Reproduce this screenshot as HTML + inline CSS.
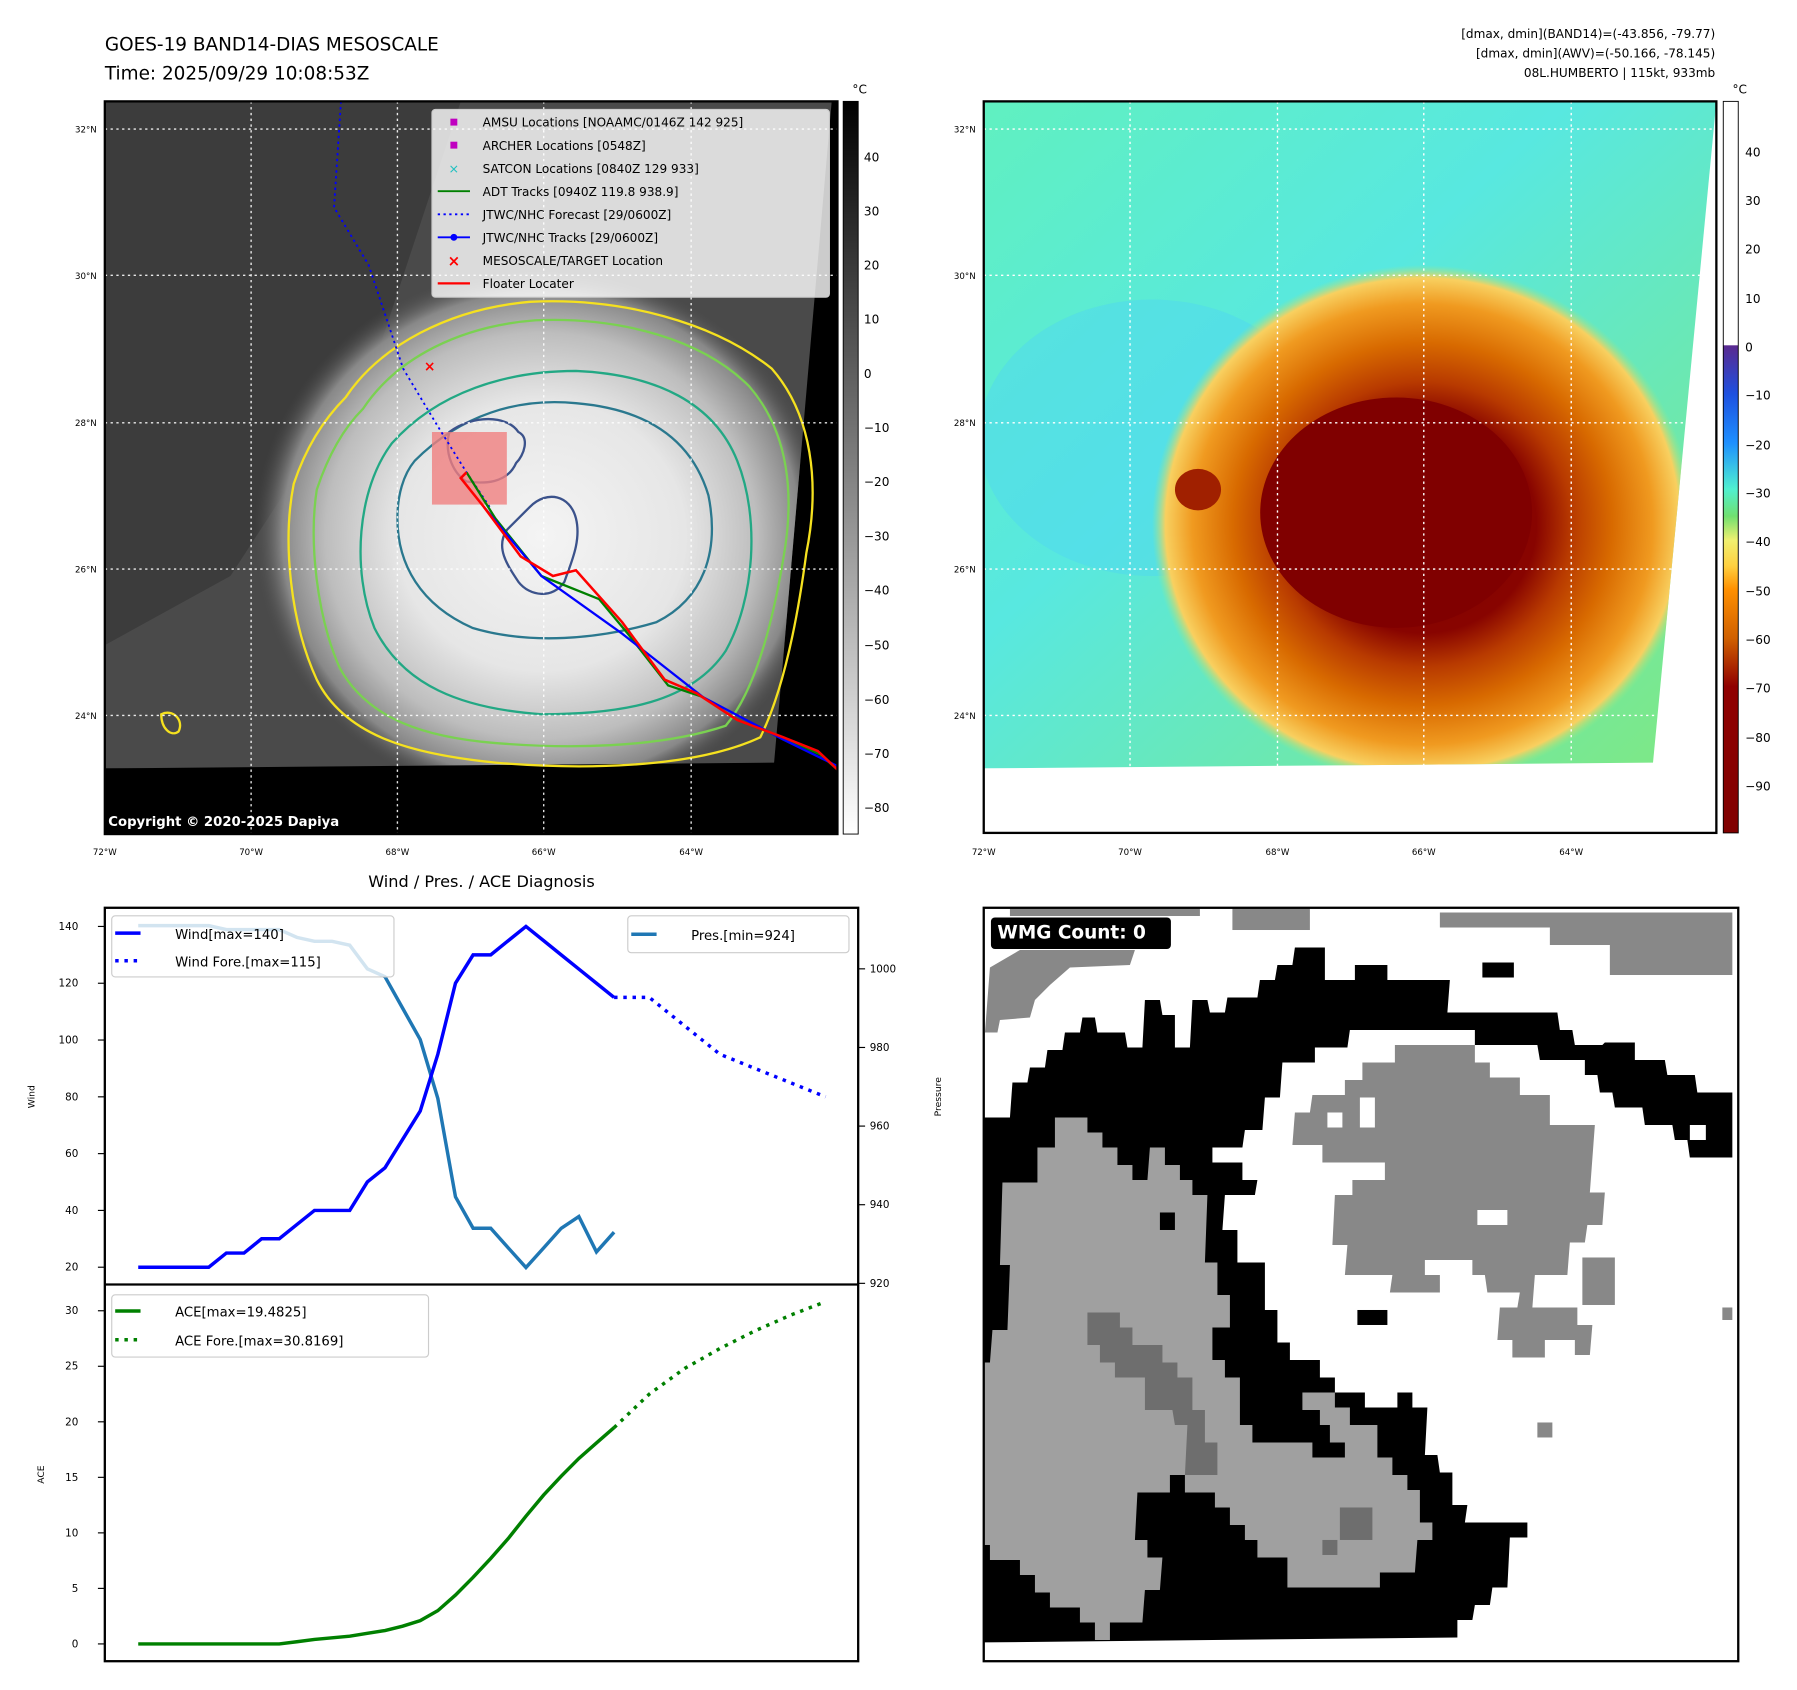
<!DOCTYPE html>
<html><head><meta charset="utf-8"><style>
html,body{margin:0;padding:0;background:#fff;}
svg{display:block;font-family:"DejaVu Sans","Liberation Sans",sans-serif;}
</style></head><body>
<svg id="fig" xmlns="http://www.w3.org/2000/svg" width="1797" height="1690" viewBox="0 0 1560 1467" preserveAspectRatio="none">
<defs>
<radialGradient id="stormGray" cx="0.5" cy="0.5" r="0.5">
<stop offset="0" stop-color="#f4f4f4"/><stop offset="0.5" stop-color="#e6e6e6"/><stop offset="0.75" stop-color="#bdbdbd"/><stop offset="0.9" stop-color="#888"/><stop offset="1" stop-color="#4a4a4a" stop-opacity="0"/>
</radialGradient>
<radialGradient id="stormColor" cx="0.5" cy="0.5" r="0.5">
<stop offset="0" stop-color="#800000"/><stop offset="0.42" stop-color="#880400"/><stop offset="0.55" stop-color="#b83a00"/><stop offset="0.7" stop-color="#d86a00"/><stop offset="0.85" stop-color="#f09a20"/><stop offset="0.95" stop-color="#f8d060"/><stop offset="1" stop-color="#a0e880" stop-opacity="0"/>
</radialGradient>
<linearGradient id="bgColor" x1="0" y1="0" x2="1" y2="1">
<stop offset="0" stop-color="#60f0c0"/><stop offset="0.4" stop-color="#58e8e0"/><stop offset="1" stop-color="#80e880"/>
</linearGradient>
<linearGradient id="cbGray" x1="0" y1="0" x2="0" y2="1"><stop offset="0" stop-color="#000"/><stop offset="1" stop-color="#fff"/></linearGradient>
<linearGradient id="cbColor" x1="0" y1="0" x2="0" y2="1">
<stop offset="0" stop-color="#fff"/><stop offset="0.333" stop-color="#fff"/><stop offset="0.334" stop-color="#5a2a90"/><stop offset="0.40" stop-color="#1e50e0"/><stop offset="0.467" stop-color="#1e90ff"/><stop offset="0.53" stop-color="#50f0d0"/><stop offset="0.567" stop-color="#70e070"/><stop offset="0.60" stop-color="#f0f070"/><stop offset="0.635" stop-color="#ffd040"/><stop offset="0.667" stop-color="#ff9000"/><stop offset="0.734" stop-color="#d06000"/><stop offset="0.80" stop-color="#900000"/><stop offset="1" stop-color="#800000"/>
</linearGradient>
<clipPath id="clipL"><rect x="91" y="88" width="636" height="636"/></clipPath>
<clipPath id="dataL"><polygon points="91,88 722,88 672,662 91,667"/></clipPath>
<clipPath id="clipR"><rect x="854" y="88" width="636" height="635"/></clipPath>
<clipPath id="dataR"><polygon points="854,88 1490,88 1435,662 854,667"/></clipPath>
<clipPath id="clipW"><rect x="854" y="788" width="655" height="654"/></clipPath>
</defs>

<text x="91" y="44" font-size="16">GOES-19 BAND14-DIAS MESOSCALE</text>
<text x="91" y="69" font-size="16">Time: 2025/09/29 10:08:53Z</text>
<g font-size="10.5" text-anchor="end">
<text x="1489" y="33">[dmax, dmin](BAND14)=(-43.856, -79.77)</text>
<text x="1489" y="50">[dmax, dmin](AWV)=(-50.166, -78.145)</text>
<text x="1489" y="67">08L.HUMBERTO | 115kt, 933mb</text>
</g>

<!-- LEFT MAP -->
<g clip-path="url(#clipL)">
<rect x="91" y="88" width="636" height="636" fill="#000"/>
<g clip-path="url(#dataL)">
<rect x="91" y="88" width="636" height="580" fill="#4a4a4a"/>
<polygon points="91,88 400,88 330,300 200,500 91,560" fill="#3c3c3c"/>
<ellipse cx="470" cy="465" rx="250" ry="235" fill="url(#stormGray)"/>
</g>
<g fill="none" stroke-width="2">
<path d="M300,345 C330,300 390,268 460,262 C540,258 620,280 670,320 C705,360 712,420 700,480 C692,540 680,600 660,640 C600,668 500,668 430,662 C360,655 300,640 275,590 C252,540 245,470 255,420 C265,390 280,365 300,345Z" stroke="#f5e11f"/>
<path d="M315,355 C345,310 400,283 465,278 C540,275 610,295 650,335 C685,375 690,430 680,485 C670,545 655,600 630,630 C570,650 490,650 430,645 C370,640 320,625 295,580 C275,535 268,470 275,425 C285,395 298,372 315,355Z" stroke="#7ad151"/>
<path d="M340,385 C380,340 440,322 500,322 C570,325 620,350 640,400 C660,450 655,520 630,565 C600,610 540,620 470,620 C400,615 350,595 325,545 C305,495 310,425 340,385Z" stroke="#22a884"/>
<path d="M360,400 C400,360 450,345 500,350 C560,355 600,380 615,430 C625,480 610,520 570,540 C520,555 460,560 410,545 C365,525 345,490 345,450 C345,430 350,412 360,400Z" stroke="#2a788e"/>
<path d="M390,375 C410,360 440,360 450,375 C460,380 455,395 448,402 C440,420 420,420 405,418 C395,412 385,395 390,375Z" stroke="#3b528b"/>
<path d="M460,440 C475,425 495,430 500,450 C505,470 495,490 490,505 C480,520 460,518 450,505 C440,490 430,475 440,460 Z" stroke="#3b528b"/>
<path d="M140,620 C150,615 160,625 155,635 C148,640 140,632 140,620Z" stroke="#f5e11f"/>
</g>
<rect x="375" y="375" width="65" height="63" fill="#f08080" opacity="0.8"/>
<g stroke-dasharray="2,3" stroke="#fff" stroke-width="1.2" opacity="0.9">
<line x1="91" y1="112" x2="727" y2="112"/><line x1="91" y1="239" x2="727" y2="239"/><line x1="91" y1="367" x2="727" y2="367"/><line x1="91" y1="494" x2="727" y2="494"/><line x1="91" y1="621" x2="727" y2="621"/>
<line x1="218" y1="88" x2="218" y2="724"/><line x1="345" y1="88" x2="345" y2="724"/><line x1="472" y1="88" x2="472" y2="724"/><line x1="600" y1="88" x2="600" y2="724"/>
</g>
<polyline points="296,88 290,180 320,230 350,320 380,370 405,410 425,440" fill="none" stroke="#0000ff" stroke-width="1.6" stroke-dasharray="2,3"/>
<polyline points="405,410 430,450 470,500 520,520 545,550 580,595 610,605 640,625 680,640 712,655 727,668" fill="none" stroke="#008000" stroke-width="2"/>
<polyline points="420,440 470,500 540,550 610,605 680,642 727,665" fill="none" stroke="#0000ff" stroke-width="2"/>
<polyline points="405,410 400,415 420,440 452,483 480,500 500,495 540,540 577,590 605,602 640,625 680,640 710,652 727,668" fill="none" stroke="#ff0000" stroke-width="2.2"/>
<text x="373" y="322" font-size="12" fill="#ff0000" text-anchor="middle" font-weight="bold">×</text>
<text x="94" y="717" font-size="11.5" font-weight="bold" fill="#fff">Copyright © 2020-2025 Dapiya</text>
<g>
<rect x="375" y="95" width="345" height="163" rx="3" fill="#fff" fill-opacity="0.8" stroke="#ccc"/>
<g font-size="10.5">
<rect x="391" y="103" width="6" height="6" fill="#c000c0"/><text x="419" y="110">AMSU Locations [NOAAMC/0146Z 142 925]</text>
<rect x="391" y="123" width="6" height="6" fill="#c000c0"/><text x="419" y="130">ARCHER Locations [0548Z]</text>
<text x="394" y="150" fill="#20c0c0" text-anchor="middle" font-size="11">×</text><text x="419" y="150">SATCON Locations [0840Z 129 933]</text>
<line x1="380" y1="166" x2="408" y2="166" stroke="#008000" stroke-width="1.6"/><text x="419" y="170">ADT Tracks [0940Z 119.8 938.9]</text>
<line x1="380" y1="186" x2="408" y2="186" stroke="#0000ff" stroke-width="1.6" stroke-dasharray="2,3"/><text x="419" y="190">JTWC/NHC Forecast [29/0600Z]</text>
<line x1="380" y1="206" x2="408" y2="206" stroke="#0000ff" stroke-width="1.6"/><circle cx="394" cy="206" r="3" fill="#0000ff"/><text x="419" y="210">JTWC/NHC Tracks [29/0600Z]</text>
<text x="394" y="231" fill="#ff0000" text-anchor="middle" font-size="13" font-weight="bold">×</text><text x="419" y="230">MESOSCALE/TARGET Location</text>
<line x1="380" y1="246" x2="408" y2="246" stroke="#ff0000" stroke-width="2"/><text x="419" y="250">Floater Locater</text>
</g></g>
</g>
<rect x="91" y="88" width="636" height="636" fill="none" stroke="#000" stroke-width="2"/>
<rect x="732" y="88" width="13" height="636" fill="url(#cbGray)" stroke="#000" stroke-width="0.8"/>
<text x="740" y="81" font-size="10.5">°C</text>
<g font-size="10.5">
<text x="750" y="140">40</text><text x="750" y="187">30</text><text x="750" y="234">20</text><text x="750" y="281">10</text><text x="750" y="328">0</text><text x="750" y="375">−10</text><text x="750" y="422">−20</text><text x="750" y="469">−30</text><text x="750" y="516">−40</text><text x="750" y="564">−50</text><text x="750" y="611">−60</text><text x="750" y="658">−70</text><text x="750" y="705">−80</text>
</g>
<g font-size="7.5" text-anchor="end">
<text x="84" y="115">32°N</text><text x="84" y="242">30°N</text><text x="84" y="370">28°N</text><text x="84" y="497">26°N</text><text x="84" y="624">24°N</text>
</g>
<g font-size="7.5" text-anchor="middle">
<text x="91" y="742">72°W</text><text x="218" y="742">70°W</text><text x="345" y="742">68°W</text><text x="472" y="742">66°W</text><text x="600" y="742">64°W</text>
</g>

<!-- RIGHT MAP -->
<g clip-path="url(#clipR)">
<rect x="854" y="88" width="636" height="635" fill="#fff"/>
<g clip-path="url(#dataR)">
<rect x="854" y="88" width="636" height="580" fill="url(#bgColor)"/>
<ellipse cx="1000" cy="380" rx="150" ry="120" fill="#50d8f0" opacity="0.5"/>
<ellipse cx="1235" cy="455" rx="235" ry="225" fill="url(#stormColor)"/>
<ellipse cx="1212" cy="445" rx="118" ry="100" fill="#800000"/>
<ellipse cx="1040" cy="425" rx="20" ry="18" fill="#a02000"/>
</g>
<g stroke-dasharray="2,3" stroke="#fff" stroke-width="1.2">
<line x1="854" y1="112" x2="1490" y2="112"/><line x1="854" y1="239" x2="1490" y2="239"/><line x1="854" y1="367" x2="1490" y2="367"/><line x1="854" y1="494" x2="1490" y2="494"/><line x1="854" y1="621" x2="1490" y2="621"/>
<line x1="981" y1="88" x2="981" y2="667"/><line x1="1109" y1="88" x2="1109" y2="667"/><line x1="1236" y1="88" x2="1236" y2="667"/><line x1="1364" y1="88" x2="1364" y2="667"/>
</g>
</g>
<rect x="854" y="88" width="636" height="635" fill="none" stroke="#000" stroke-width="2"/>
<rect x="1496" y="88" width="13" height="635" fill="url(#cbColor)" stroke="#000" stroke-width="0.8"/>
<text x="1504" y="81" font-size="10.5">°C</text>
<g font-size="10.5">
<text x="1515" y="136">40</text><text x="1515" y="178">30</text><text x="1515" y="220">20</text><text x="1515" y="263">10</text><text x="1515" y="305">0</text><text x="1515" y="347">−10</text><text x="1515" y="390">−20</text><text x="1515" y="432">−30</text><text x="1515" y="474">−40</text><text x="1515" y="517">−50</text><text x="1515" y="559">−60</text><text x="1515" y="601">−70</text><text x="1515" y="644">−80</text><text x="1515" y="686">−90</text>
</g>
<g font-size="7.5" text-anchor="end">
<text x="847" y="115">32°N</text><text x="847" y="242">30°N</text><text x="847" y="370">28°N</text><text x="847" y="497">26°N</text><text x="847" y="624">24°N</text>
</g>
<g font-size="7.5" text-anchor="middle">
<text x="854" y="742">72°W</text><text x="981" y="742">70°W</text><text x="1109" y="742">68°W</text><text x="1236" y="742">66°W</text><text x="1364" y="742">64°W</text>
</g>

<!-- WMG PANEL -->
<g clip-path="url(#clipW)">
<rect x="854" y="788" width="655" height="654" fill="#fff"/>
<g transform="translate(850.7,781.25) scale(0.434)">
<g fill="#888">
<rect x="60" y="10" width="380" height="22"/><rect x="505" y="10" width="155" height="50"/><rect x="920" y="25" width="585" height="30"/><rect x="1140" y="55" width="365" height="35"/><rect x="1260" y="90" width="245" height="60"/>
<polygon points="20,135 80,100 310,100 300,130 180,135 140,170 110,200 100,235 40,240 35,265 10,265"/>
</g>
<polygon fill="#000" points="0,435 60,435 65,365 95,365 100,335 130,335 135,300 165,300 170,265 200,265 205,235 230,235 235,265 290,265 295,295 325,295 330,200 360,200 365,230 390,230 390,295 420,295 425,200 455,200 460,225 490,225 495,195 555,195 560,160 590,160 595,130 625,130 630,95 690,95 690,160 750,160 750,130 815,130 815,160 940,160 935,225 1155,225 1160,260 1185,260 1190,290 1245,290 1250,285 1310,285 1310,320 1370,320 1375,350 1430,350 1435,385 1505,385 1505,515 1420,515 1415,480 1390,480 1385,450 1330,450 1325,415 1270,415 1265,385 1240,385 1235,350 1210,350 1210,320 1120,320 1115,290 990,290 990,260 740,260 735,295 670,295 670,325 605,325 600,395 570,395 565,460 530,460 525,495 465,495 465,525 525,525 525,560 555,560 550,590 490,590 485,660 515,660 515,725 570,725 570,820 595,820 595,885 620,885 620,920 680,920 680,955 710,955 710,985 770,985 770,1015 835,1015 835,985 865,985 865,1015 895,1015 890,1110 915,1110 920,1145 945,1145 945,1210 975,1210 970,1245 1095,1245 1095,1275 1060,1275 1055,1375 1025,1375 1020,1410 990,1410 985,1440 955,1440 955,1475 0,1485"/>
<polygon fill="#a0a0a0" points="150,435 215,435 215,465 245,465 245,495 275,495 275,530 305,530 305,560 335,560 340,495 370,495 370,530 400,530 400,560 425,560 425,590 455,590 450,725 475,725 475,790 500,790 500,855 465,855 465,920 490,920 490,955 520,955 520,1050 545,1050 545,1085 665,1085 665,1115 730,1115 730,1085 700,1085 700,1050 680,1050 680,1020 645,1020 645,985 710,985 710,1015 740,1015 740,1050 795,1050 795,1115 825,1115 825,1150 855,1150 855,1180 880,1180 880,1245 905,1245 905,1280 875,1280 870,1345 800,1345 800,1375 615,1375 615,1315 555,1315 555,1280 530,1280 530,1250 500,1250 500,1215 470,1215 470,1185 410,1185 410,1150 380,1150 380,1185 315,1185 310,1280 335,1280 335,1315 365,1315 360,1380 330,1380 325,1445 260,1445 260,1480 230,1480 230,1445 200,1445 200,1415 140,1415 140,1385 110,1385 110,1350 80,1350 80,1320 20,1320 20,1290 0,1290 0,925 20,925 25,860 55,860 60,730 40,730 45,565 115,565 115,495 150,495"/>
<g fill="#6e6e6e">
<polygon points="215,825 280,825 280,855 305,855 305,890 365,890 365,925 395,925 395,955 425,955 425,1020 450,1020 450,1085 475,1085 475,1150 410,1150 415,1050 390,1050 385,1020 330,1020 330,955 270,955 270,925 240,925 240,890 215,890"/>
<rect x="720" y="1215" width="65" height="65"/><rect x="685" y="1280" width="30" height="30"/>
</g>
<polygon fill="#888" points="830,290 990,290 990,325 1020,325 1020,355 1080,355 1080,390 1140,390 1140,450 1230,450 1220,585 1250,585 1245,650 1215,650 1210,685 1180,685 1175,750 1110,750 1105,815 1195,815 1195,850 1225,850 1220,910 1190,910 1190,880 1130,880 1130,915 1065,915 1065,880 1035,880 1040,815 1075,815 1080,785 1015,785 1010,750 985,750 985,720 890,720 890,750 920,750 920,785 820,785 825,750 730,750 735,690 705,690 710,590 745,590 745,560 810,560 810,525 685,525 685,490 625,490 630,425 660,425 665,390 730,390 730,360 765,360 765,325 830,325"/>
<g fill="#fff"><rect x="695" y="425" width="30" height="30"/><rect x="760" y="395" width="30" height="60"/><rect x="995" y="620" width="60" height="30"/><rect x="1420" y="450" width="32" height="30"/></g>
<g fill="#888"><rect x="1205" y="715" width="65" height="95"/><rect x="1115" y="1045" width="30" height="30"/><rect x="1485" y="815" width="20" height="25"/></g>
<g fill="#000"><rect x="1005" y="125" width="63" height="30"/><rect x="755" y="820" width="60" height="30"/><rect x="360" y="625" width="30" height="35"/></g>
<rect x="22" y="35" width="360" height="63" rx="8" fill="#000"/>
<text x="35" y="77" font-size="37" font-weight="bold" fill="#fff">WMG Count: 0</text>
</g>
</g>
<rect x="854" y="788" width="655" height="654" fill="none" stroke="#000" stroke-width="2"/>

<!-- BOTTOM CHART -->
<text x="418" y="770" font-size="14" text-anchor="middle">Wind / Pres. / ACE Diagnosis</text>
<g id="chart"></g>
<rect x="91" y="788" width="654" height="654" fill="none" stroke="#000" stroke-width="2"/>
<line x1="91" y1="1115" x2="745" y2="1115" stroke="#000" stroke-width="2"/>
<text transform="translate(30,952) rotate(-90)" font-size="8" text-anchor="middle">Wind</text>
<text transform="translate(817,952) rotate(-90)" font-size="8" text-anchor="middle">Pressure</text>
<text transform="translate(38,1280) rotate(-90)" font-size="8" text-anchor="middle">ACE</text>
</svg>
<script>
const windObs = [20,20,20,20,20,25,25,30,30,35,40,40,40,50,55,65,75,95,120,130,130,135,140,135,130,125,120,115];
const windFore = [115,115,105,95,90,85,80];
const presObs = [1011,1011,1011,1011,1011,1010,1010,1010,1010,1008,1007,1007,1006,1000,998,990,982,967,942,934,934,929,924,929,934,937,928,933];
const aceObs = [0,0,0,0,0,0,0,0,0,0.2,0.4,0.55,0.7,0.95,1.2,1.6,2.1,3.0,4.4,6.0,7.7,9.5,11.5,13.4,15.1,16.7,18.1,19.48];
const aceFore = [19.48,22.5,24.8,26.6,28.2,29.6,30.82];
const foreStep = 2;
const windTicks = [20,40,60,80,100,120,140];
const presTicks = [920,940,960,980,1000];
const aceTicks = [0,5,10,15,20,25,30];

const NS='http://www.w3.org/2000/svg';
const g=document.getElementById('chart');
const xS=i=>120+i*15.3;
const yW=w=>1100-(w-20)*2.465;
const yP=p=>841+(1000-p)*3.4125;
const yA=a=>1427-a*9.64;
function mk(tag,attrs){const e=document.createElementNS(NS,tag);for(const k in attrs)e.setAttribute(k,attrs[k]);g.appendChild(e);return e;}
function pts(arr,fx,fy){return arr.map((v,i)=>fx(i).toFixed(1)+','+fy(v).toFixed(1)).join(' ');}
const off=windObs.length-1;
let e;
e=mk('polyline',{points:pts(presObs,xS,yP),fill:'none',stroke:'#1f77b4','stroke-width':3});


e=mk('polyline',{points:pts(windObs,xS,yW),fill:'none',stroke:'#0000ff','stroke-width':3});


e=mk('polyline',{points:pts(windFore,i=>xS(off+i*foreStep),yW),fill:'none',stroke:'#0000ff','stroke-width':3,'stroke-dasharray':'3,5'});


e=mk('polyline',{points:pts(aceObs,xS,yA),fill:'none',stroke:'#008000','stroke-width':3});


e=mk('polyline',{points:pts(aceFore,i=>xS(off+i*foreStep),yA),fill:'none',stroke:'#008000','stroke-width':3,'stroke-dasharray':'3,5'});


windTicks.forEach(t=>{const y=yW(t);mk('line',{x1:85,y1:y,x2:91,y2:y,stroke:'#000'});
e=mk('text',{x:68,y:y+3,'font-size':9,'text-anchor':'end'});e.textContent=t;

});
presTicks.forEach(t=>{const y=yP(t);mk('line',{x1:745,y1:y,x2:751,y2:y,stroke:'#000'});
e=mk('text',{x:755,y:y+3,'font-size':9});e.textContent=t;

});
aceTicks.forEach(t=>{const y=yA(t);mk('line',{x1:85,y1:y,x2:91,y2:y,stroke:'#000'});
e=mk('text',{x:68,y:y+3,'font-size':9,'text-anchor':'end'});e.textContent=t;

});
function legend(name,x,y,w,h,items){const r=mk('rect',{x:x,y:y,width:w,height:h,rx:3,fill:'#fff','fill-opacity':0.8,stroke:'#ccc'});


items.forEach(it=>{mk('line',{x1:x+3,y1:it.y,x2:x+25,y2:it.y,stroke:it.c,'stroke-width':3,'stroke-dasharray':it.d||'none'});
const t=mk('text',{x:x+55,y:it.y+5,'font-size':11.5});t.textContent=it.t;

});}
legend('wind-legend',97,795,245,53,[{y:810,c:'#0000ff',t:'Wind[max=140]'},{y:834,c:'#0000ff',d:'3,5',t:'Wind Fore.[max=115]'}]);
legend('pressure-legend',545,795,192,32,[{y:811,c:'#1f77b4',t:'Pres.[min=924]'}]);
legend('ace-legend',97,1124,275,54,[{y:1138,c:'#008000',t:'ACE[max=19.4825]'},{y:1163,c:'#008000',d:'3,5',t:'ACE Fore.[max=30.8169]'}]);
</script>
</body></html>
